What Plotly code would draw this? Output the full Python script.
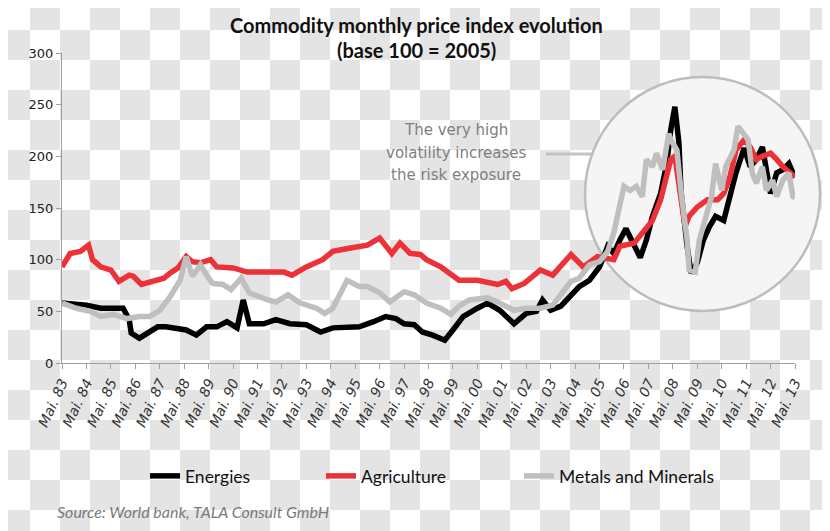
import plotly.graph_objects as go

# The page body adds an 8px margin, so the figure is drawn 8px smaller and
# every layout position (given in reference-image pixels) is shifted by OFF.
OFF = 8
W, H = 830 - OFF, 531 - OFF

# ---------------- data (x = months since May 1983) ----------------
energies_m = [0, 12, 19, 24, 30, 33, 34, 38, 42, 47, 51, 56, 61, 66, 71, 76, 81, 86, 89, 92,
              99, 105, 112, 120, 127, 133, 140, 146, 153, 159, 164, 168, 173, 177, 182, 188,
              192, 197, 204, 209, 215, 222, 228, 233, 236, 240, 245, 251, 254, 259, 264, 268,
              271, 274, 277, 281, 284, 287, 290, 294, 297, 299, 301, 303, 304, 307, 309, 312,
              315, 318, 321, 325, 328, 331, 335, 338, 341, 344, 348, 351, 354, 357, 359, 360]
energies_v = [58, 56, 53, 53, 53, 42, 29, 24, 29, 35, 35, 34, 32, 27, 35, 35, 40, 34, 61, 38,
              38, 42, 38, 37, 30, 34, 35, 35, 40, 45, 43, 38, 37, 30, 27, 22,
              32, 45, 53, 58, 51, 38, 48, 50, 61, 51, 55, 69, 74, 80, 93, 113,
              106, 119, 130, 114, 102, 119, 142, 164, 193, 226, 248, 213, 167, 113, 87, 97,
              119, 132, 142, 138, 161, 184, 208, 190, 197, 209, 164, 184, 187, 193, 184, 180]

agri_m = [0, 4, 9, 13, 15, 19, 24, 28, 33, 35, 39, 45, 50, 53, 57, 61, 64, 68, 73, 76, 84,
          91, 101, 109, 113, 120, 128, 133, 141, 150, 156, 162, 166, 171, 176, 179, 186, 195,
          204, 214, 218, 221, 227, 235, 241, 250, 256, 263, 271, 274, 281, 286, 290, 294, 299,
          301, 303, 306, 308, 312, 317, 322, 325, 328, 331, 335, 338, 341, 344, 348, 351, 354,
          360]
agri_v = [93, 106, 108, 114, 100, 93, 90, 79, 85, 84, 76, 79, 82, 87, 92, 103, 98, 97, 100, 93, 92,
          88, 88, 88, 85, 93, 100, 108, 111, 114, 121, 106, 116, 106, 105, 100, 93, 80,
          80, 76, 79, 72, 77, 90, 85, 105, 93, 103, 100, 113, 116, 129, 138, 158, 197,
          200, 174, 132, 142, 151, 158, 158, 164, 180, 206, 216, 209, 197, 200, 203, 197, 190,
          180]

metals_m = [0, 7, 14, 19, 25, 32, 38, 43, 48, 53, 58, 61, 64, 68, 71, 74, 79, 83, 88, 92, 101,
            105, 111, 117, 125, 129, 133, 140, 146, 150, 156, 161, 168, 173, 179, 186, 191, 195,
            200, 209, 215, 222, 228, 235, 241, 250, 254, 259, 264, 268, 271, 276, 279, 282, 285,
            287, 290, 292, 295, 298, 299, 302, 304, 307, 308, 311, 313, 317, 319, 321, 324, 326,
            330, 332, 335, 337, 339, 341, 344, 346, 349, 351, 354, 357, 359, 360]
metals_v = [58, 53, 50, 45, 47, 43, 45, 45, 51, 64, 80, 103, 84, 95, 85, 77, 76, 71, 82, 68, 61,
            59, 66, 58, 53, 48, 53, 80, 74, 74, 68, 59, 69, 66, 58, 53, 47, 55,
            61, 63, 58, 51, 53, 53, 56, 79, 82, 95, 98, 108, 126, 171, 167, 171, 161,
            197, 190, 203, 187, 222, 216, 206, 167, 119, 90, 88, 119, 145, 161, 193, 167, 190,
            206, 229, 222, 216, 184, 174, 190, 167, 177, 161, 177, 184, 161, 160]

series_names = ["Energies", "Agriculture", "Metals and Minerals"]
series_colors = ["#000000", "#ec3139", "#bfbfbf"]

tick_months = list(range(0, 361, 12))
tick_labels = ["Mai. 83", "Mai. 84", "Mai. 85", "Mai. 86", "Mai. 87", "Mai. 88", "Mai. 89",
               "Mai. 90", "Mai. 91", "Mai. 92", "Mai. 93", "Mai. 94", "Mai. 95", "Mai. 96",
               "Mai. 97", "Mai. 98", "Mai. 99", "Mai. 00", "Mai. 01", "Mai. 02", "Mai. 03",
               "Mai. 04", "Mai. 05", "Mai. 06", "Mai. 07", "Mai. 08", "Mai. 09", "Mai. 10",
               "Mai. 11", "Mai. 12", "Mai. 13"]
y_ticks = [0, 50, 100, 150, 200, 250, 300]

title_lines = ["Commodity monthly price index evolution", "(base 100 = 2005)"]
note_lines = ["The very high", "volatility increases", "the risk exposure"]
source_text = "Source: World bank, TALA Consult GmbH"


def px(x):
    return (x - OFF) / W


def py(y):
    return 1 - (y - OFF) / H


fig = go.Figure()
xs = [energies_m, agri_m, metals_m]
ys = [energies_v, agri_v, metals_v]
legends = ["legend", "legend2", "legend3"]
for name, c, x, y, lg in zip(series_names, series_colors, xs, ys, legends):
    fig.add_trace(go.Scatter(x=x, y=y, mode="lines", name=name, legend=lg,
                             line=dict(color=c, width=5.5, shape="linear"),
                             hoverinfo="skip"))

shapes = []
# checkerboard background
for r in range(18):
    for c in range(28):
        if (r + c) % 2 == 1:
            shapes.append(dict(type="rect", xref="paper", yref="paper", layer="below",
                               x0=px(max(c * 30, OFF)), x1=px(c * 30 + 30),
                               y0=py(r * 30 + 30), y1=py(max(r * 30, OFF)),
                               line=dict(width=0), fillcolor="#e4e4e4"))
# magnifier circle
shapes.append(dict(type="circle", xref="paper", yref="paper", layer="below",
                   x0=px(585), x1=px(820), y0=py(311), y1=py(77),
                   fillcolor="#f5f5f5", line=dict(color="#bdbdbd", width=2.5)))
# connector line
shapes.append(dict(type="line", xref="paper", yref="paper", layer="below",
                   x0=px(546), x1=px(591), y0=py(154), y1=py(154),
                   line=dict(color="#c3c3c3", width=3)))

annotations = []
for i, t in enumerate(title_lines):
    annotations.append(dict(text="<b>%s</b>" % t, x=px(416), y=py(25 + 25 * i), xref="paper", yref="paper",
                            showarrow=False, xanchor="center", yanchor="middle",
                            font=dict(family="Lato", size=20, color="#111111")))
for i, t in enumerate(note_lines):
    annotations.append(dict(text=t, x=px(456), y=py(130 + 22.5 * i), xref="paper", yref="paper",
                            showarrow=False, xanchor="center", yanchor="middle",
                            font=dict(family="DejaVu Sans", size=15, color="#7f7f7f")))
annotations.append(dict(text="<i>%s</i>" % source_text, x=px(55), y=py(511), xref="paper", yref="paper",
                        showarrow=False, xanchor="left", yanchor="middle",
                        font=dict(family="Lato", size=16, color="#7a7a7a")))

leg_common = dict(orientation="h", yref="paper", y=py(476), yanchor="middle", xanchor="left",
                  bgcolor="rgba(0,0,0,0)", borderwidth=0, itemwidth=30,
                  font=dict(family="Lato", size=17.5, color="#111111"))

fig.update_layout(
    width=W, height=H,
    margin=dict(l=0, r=0, t=0, b=0),
    paper_bgcolor="#ffffff", plot_bgcolor="rgba(0,0,0,0)",
    showlegend=True,
    legend=dict(x=px(145), **leg_common),
    legend2=dict(x=px(321), **leg_common),
    legend3=dict(x=px(519), **leg_common),
    shapes=shapes, annotations=annotations,
    xaxis=dict(domain=[px(62), px(795)], range=[0, 360], tickmode="array",
               tickvals=tick_months, ticktext=tick_labels, tickangle=-65,
               ticks="outside", ticklen=5, tickcolor="#a0a0a0", showline=True,
               linecolor="#a0a0a0", linewidth=1, showgrid=False, zeroline=False,
               automargin=False,
               tickfont=dict(family="DejaVu Sans", size=14, color="#333333", style="italic")),
    yaxis=dict(domain=[py(363), py(53)], range=[0, 300], tickmode="array", tickvals=y_ticks,
               ticks="outside", ticklen=5, tickcolor="#a0a0a0", showline=True,
               linecolor="#a0a0a0", linewidth=1, showgrid=False, zeroline=False,
               automargin=False,
               tickfont=dict(family="DejaVu Sans", size=13, color="#222222")),
)

fig.write_html("out.html")
